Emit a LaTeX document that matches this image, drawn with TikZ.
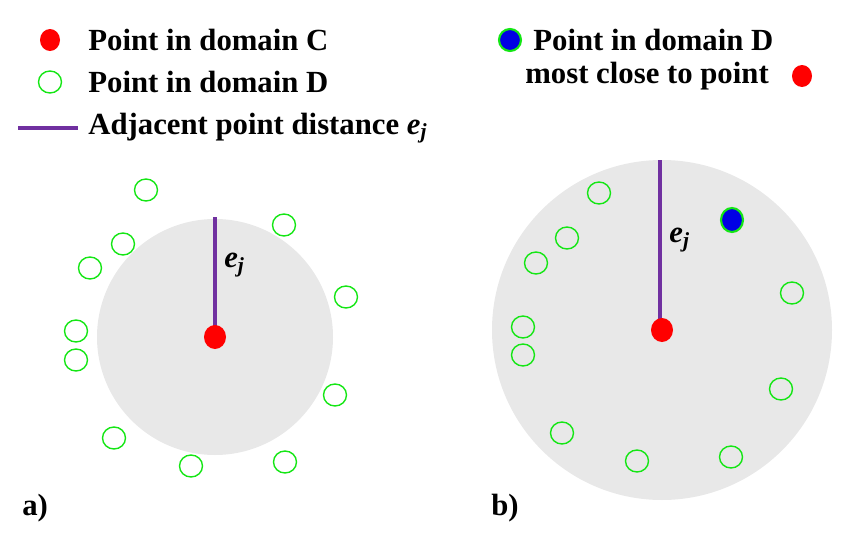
\documentclass[tikz,border=0pt]{standalone}
\usepackage{fontspec}
\setmainfont{Liberation Serif}
\definecolor{purp}{RGB}{112,48,160}
\definecolor{gr}{RGB}{20,230,20}
\begin{document}
\begin{tikzpicture}[x=0.02cm,y=-0.02cm,
  txt/.style={anchor=west,inner sep=0pt,font=\fontsize{17.5}{20}\selectfont\bfseries},
  red/.style={fill=red,draw=none},
  disc/.style={fill=black!9,draw=none},
  dist/.style={draw=purp,line width=1.8pt}]
\useasboundingbox (0,0) rectangle (849,534);
\def\gc(#1,#2){\draw[draw=gr,line width=0.8pt] (#1,#2) ellipse [x radius=11.5,y radius=11];}
% legend
\fill[red] (50,40) ellipse [x radius=10,y radius=11];
\node[txt] (l1) at (88,40) {Point in domain C};
\gc(50,82)
\node[txt] (l2) at (88,82) {Point in domain D};
\coordinate (la) at (18,128); \coordinate (lb) at (78,128);
\draw[dist] (la) -- (lb);
\node[txt] (l3) at (88,128) {Adjacent point distance \textit{e\textsubscript{j}}};
\filldraw[fill=blue!90!black,draw=gr,line width=1.2pt] (510,40) ellipse [x radius=11,y radius=11];
\node[txt] (l4) at (533,40) {Point in domain D};
\node[txt] (l5) at (525,76) {most close to point};
\fill[red] (802,76) ellipse [x radius=10,y radius=11];
% left
\fill[disc] (215,337) circle [radius=118];
\coordinate (at) at (215,217); \coordinate (ac) at (215,337);
\draw[dist] (at) -- (ac);
\node[txt] (ea) at (224,265) {\textit{e\textsubscript{j}}};
\fill[red] (215,337) ellipse [x radius=11,y radius=12];
\foreach \x/\y in {146/190,123/244,90/268,284/225,346/297,76/331,76/360,335/395,114/438,191/466,285/462} {\gc(\x,\y)}
\node[txt] (a) at (22,508) {a)};
% right
\fill[disc] (662,330) circle [radius=170];
\coordinate (bt) at (660,160); \coordinate (bc) at (660,330);
\draw[dist] (bt) -- (bc);
\node[txt] (eb) at (669,240) {\textit{e\textsubscript{j}}};
\fill[red] (662,330) ellipse [x radius=11,y radius=12];
\filldraw[fill=blue!90!black,draw=gr,line width=1.2pt] (732,220) ellipse [x radius=11,y radius=12];
\foreach \x/\y in {599/193,567/238,536/263,792/293,523/327,523/355,781/389,562/433,637/461,731/457} {\gc(\x,\y)}
\node[txt] (b) at (491,508) {b)};
\end{tikzpicture}
\end{document}
